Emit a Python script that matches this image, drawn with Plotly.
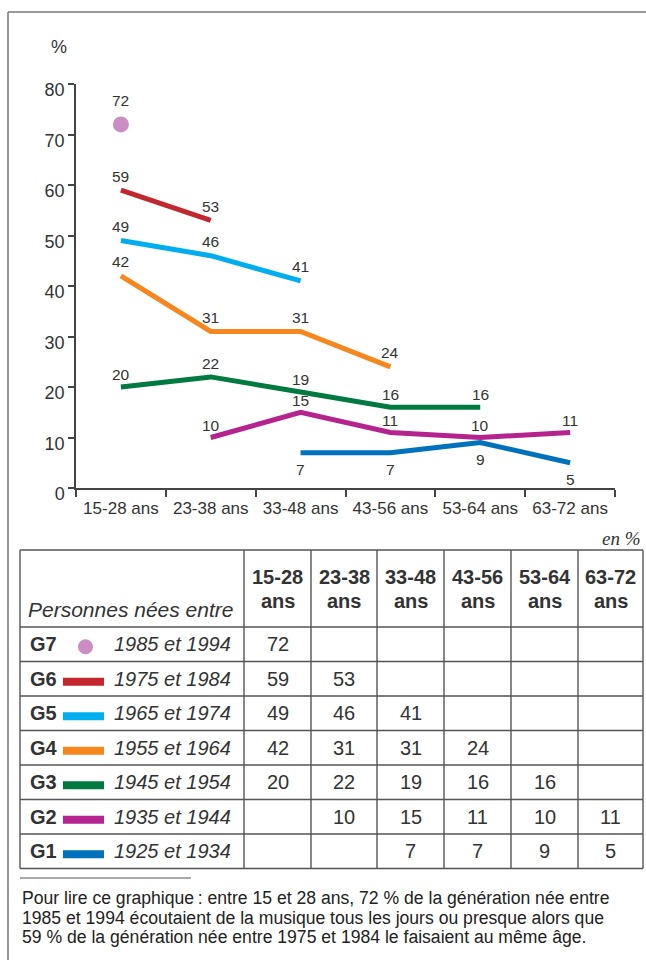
import plotly.graph_objects as go

# ---------------- data ----------------
categories = ["15-28 ans", "23-38 ans", "33-48 ans", "43-56 ans", "53-64 ans", "63-72 ans"]
header_top = ["15-28", "23-38", "33-48", "43-56", "53-64", "63-72"]
header_bottom = "ans"
header_first = "Personnes nées entre"
gen_codes = ["G7", "G6", "G5", "G4", "G3", "G2", "G1"]
gen_years = ["1985 et 1994", "1975 et 1984", "1965 et 1974", "1955 et 1964",
             "1945 et 1954", "1935 et 1944", "1925 et 1934"]
g7 = [72, None, None, None, None, None]
g6 = [59, 53, None, None, None, None]
g5 = [49, 46, 41, None, None, None]
g4 = [42, 31, 31, 24, None, None]
g3 = [20, 22, 19, 16, 16, None]
g2 = [None, 10, 15, 11, 10, 11]
g1 = [None, None, 7, 7, 9, 5]
series = [g7, g6, g5, g4, g3, g2, g1]
y_title = "%"
unit_note = "en %"
footnote_lines = [
    "Pour lire ce graphique\u202f: entre 15 et 28 ans, 72 % de la génération née entre",
    "1985 et 1994 écoutaient de la musique tous les jours ou presque alors que",
    "59 % de la génération née entre 1975 et 1984 le faisaient au même âge.",
]

# ---------------- styles ----------------
colors = ["#CB8DC3", "#C1272D", "#00AEEF", "#F7861E", "#007A3E", "#B5238E", "#0071BB"]
label_shift = [24, 14, 14, 14, 13, 12, -17]
NARROW = "Liberation Sans, Arial, sans-serif"
SANS = "Liberation Sans, Arial, Helvetica, sans-serif"
SERIF = "Liberation Serif, Times New Roman, serif"
TXT = "#333333"
LINE = "#555555"

W, H = 646, 960
L, R, T, B = 76, 615, 84, 488


def px(x):
    return (x - L) / (R - L)


def py(y):
    return (B - y) / (B - T)


fig = go.Figure()
annotations = []
shapes = []

for i, vals in enumerate(series):
    xs = [c for c, v in zip(categories, vals) if v is not None]
    ys = [v for v in vals if v is not None]
    if len(ys) == 1:
        fig.add_trace(go.Scatter(x=xs, y=ys, mode="markers",
                                 marker=dict(size=16, color=colors[i]),
                                 hoverinfo="skip", showlegend=False))
    else:
        fig.add_trace(go.Scatter(x=xs, y=ys, mode="lines",
                                 line=dict(width=5, color=colors[i]),
                                 hoverinfo="skip", showlegend=False))
    for c, v in zip(xs, ys):
        annotations.append(dict(x=c, y=v, xref="x", yref="y", text=str(v),
                                showarrow=False, yshift=label_shift[i],
                                font=dict(family=NARROW, size=15.5, color=TXT),
                                xanchor="center", yanchor="middle"))

# y title
annotations.append(dict(x=px(59), y=py(47), xref="paper", yref="paper", text=y_title,
                        showarrow=False, font=dict(family=NARROW, size=18, color=TXT),
                        xanchor="center", yanchor="middle"))
# unit note
annotations.append(dict(x=px(643), y=py(538), xref="paper", yref="paper",
                        text="<i>" + unit_note + "</i>", showarrow=False,
                        font=dict(family=SERIF, size=19, color=TXT),
                        xanchor="right", yanchor="middle"))

# ---------------- table ----------------
col_edges = [20, 244, 311, 377, 444, 511, 578, 643]
tab_top, head_bottom, row_h = 550, 627, 34.5
row_edges = [tab_top, head_bottom] + [head_bottom + row_h * (k + 1) for k in range(len(gen_codes))]
tab_bottom = row_edges[-1]

for xe in col_edges:
    shapes.append(dict(type="line", xref="paper", yref="paper",
                       x0=px(xe), x1=px(xe), y0=py(tab_top), y1=py(tab_bottom),
                       line=dict(color=LINE, width=1.4)))
for ye in row_edges:
    shapes.append(dict(type="line", xref="paper", yref="paper",
                       x0=px(col_edges[0]), x1=px(col_edges[-1]), y0=py(ye), y1=py(ye),
                       line=dict(color=LINE, width=1.4)))

annotations.append(dict(x=px(26), y=py(609), xref="paper", yref="paper",
                        text="<i>" + header_first + "</i>", showarrow=False,
                        font=dict(family=SANS, size=21, color=TXT),
                        xanchor="left", yanchor="middle"))
for j, ht in enumerate(header_top):
    cx = (col_edges[j + 1] + col_edges[j + 2]) / 2
    annotations.append(dict(x=px(cx), y=py(577), xref="paper", yref="paper",
                            text="<b>" + ht + "</b>", showarrow=False,
                            font=dict(family=SANS, size=20, color=TXT),
                            xanchor="center", yanchor="middle"))
    annotations.append(dict(x=px(cx), y=py(601), xref="paper", yref="paper",
                            text="<b>" + header_bottom + "</b>", showarrow=False,
                            font=dict(family=SANS, size=20, color=TXT),
                            xanchor="center", yanchor="middle"))

for i, code in enumerate(gen_codes):
    cy = (row_edges[i + 1] + row_edges[i + 2]) / 2
    annotations.append(dict(x=px(28), y=py(cy), xref="paper", yref="paper",
                            text="<b>" + code + "</b>", showarrow=False,
                            font=dict(family=SANS, size=20, color=TXT),
                            xanchor="left", yanchor="middle"))
    annotations.append(dict(x=px(233), y=py(cy), xref="paper", yref="paper",
                            text="<i>" + gen_years[i] + "</i>", showarrow=False,
                            font=dict(family=SANS, size=20, color=TXT),
                            xanchor="right", yanchor="middle"))
    if sum(v is not None for v in series[i]) == 1:
        shapes.append(dict(type="circle", xref="paper", yref="paper",
                           x0=px(78), x1=px(93), y0=py(cy + 2.5 - 7.5), y1=py(cy + 2.5 + 7.5),
                           fillcolor=colors[i], line=dict(width=0)))
    else:
        shapes.append(dict(type="rect", xref="paper", yref="paper",
                           x0=px(63), x1=px(104), y0=py(cy + 3 - 4), y1=py(cy + 3 + 4),
                           fillcolor=colors[i], line=dict(width=0)))
    for j, v in enumerate(series[i]):
        if v is None:
            continue
        cx = (col_edges[j + 1] + col_edges[j + 2]) / 2
        annotations.append(dict(x=px(cx), y=py(cy), xref="paper", yref="paper",
                                text=str(v), showarrow=False,
                                font=dict(family=SANS, size=20, color=TXT),
                                xanchor="center", yanchor="middle"))

# footnote
shapes.append(dict(type="line", xref="paper", yref="paper",
                   x0=px(20), x1=px(191), y0=py(878), y1=py(878),
                   line=dict(color=LINE, width=1.2)))
for k, line in enumerate(footnote_lines):
    annotations.append(dict(x=px(20), y=py(898 + 19.5 * k), xref="paper", yref="paper",
                            text=line, showarrow=False,
                            font=dict(family=SANS, size=17.6, color="#222222"),
                            xanchor="left", yanchor="middle"))

# outer frame (left and top edges; right/bottom lie outside the picture)
shapes.append(dict(type="line", xref="paper", yref="paper",
                   x0=px(8), x1=px(8), y0=py(12), y1=py(960),
                   line=dict(color="#777777", width=1.5)))
shapes.append(dict(type="line", xref="paper", yref="paper",
                   x0=px(8), x1=px(646), y0=py(12), y1=py(12),
                   line=dict(color="#777777", width=1.5)))

fig.update_layout(
    template="none",
    width=W, height=H,
    margin=dict(l=L, r=W - R, t=T, b=H - B, pad=0, autoexpand=False),
    paper_bgcolor="white", plot_bgcolor="white",
    annotations=annotations, shapes=shapes,
    showlegend=False,
    xaxis=dict(type="category", categoryorder="array", categoryarray=categories,
               range=[-0.5, len(categories) - 0.5], showline=True, linecolor="#444444",
               linewidth=1.5, ticks="outside", tickson="boundaries", ticklen=7,
               tickwidth=1.5, tickcolor="#444444", showgrid=False, zeroline=False,
               tickangle=0, automargin=False, ticklabelstandoff=4,
               tickfont=dict(family=NARROW, size=17, color=TXT), fixedrange=True),
    yaxis=dict(range=[0, 80], tick0=0, dtick=10, showline=True, linecolor="#444444",
               linewidth=1.5, ticks="outside", ticklen=6, tickwidth=1.5,
               tickcolor="#444444", showgrid=False, zeroline=False, ticklabelshift=6,
               automargin=False,
               tickfont=dict(family=NARROW, size=18, color=TXT), fixedrange=True),
)

fig.write_html("out.html", config={"displayModeBar": False},
               post_script="document.body.style.margin='0px';document.body.style.overflow='hidden';")
